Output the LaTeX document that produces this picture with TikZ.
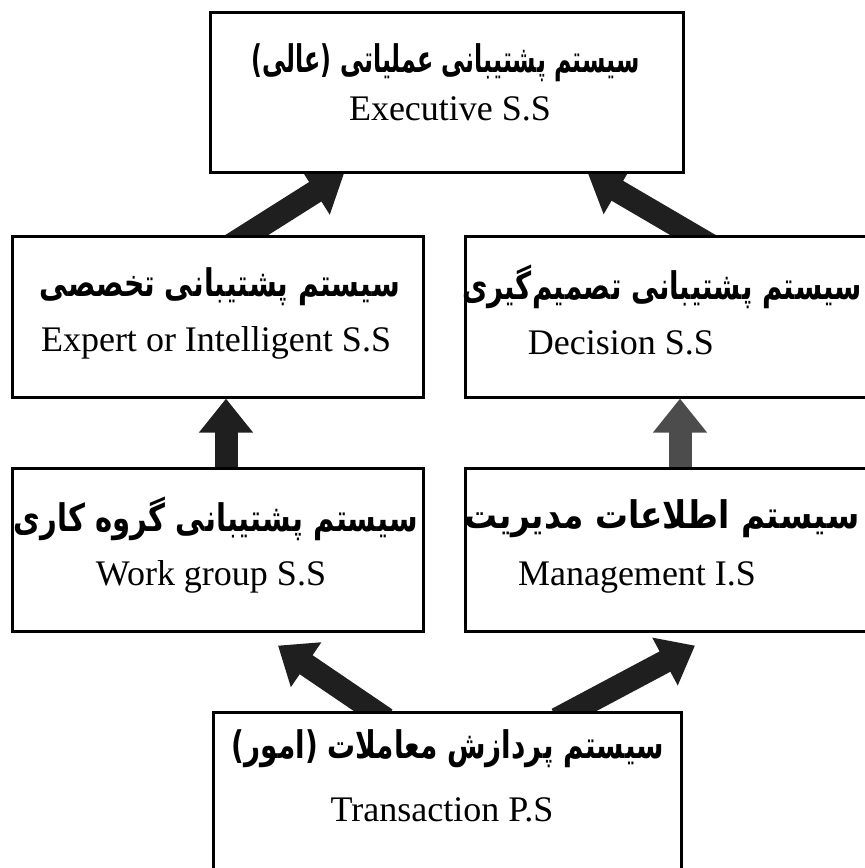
\documentclass[tikz,border=0pt]{standalone}
\usepackage{fontspec}
\usepackage{graphicx}
\setmainfont{Liberation Serif}
\newfontfamily\fa[Script=Arabic]{DejaVu Sans}
\TeXXeTstate=1
\usetikzlibrary{arrows.meta,calc,backgrounds}

\begin{document}
\begin{tikzpicture}[x=1pt,y=-1pt,
  box/.style={draw=black,line width=2.6pt,fill=white,inner sep=0pt,anchor=north west},
  fatext/.style={font=\fa\bfseries\fontsize{38}{44}\selectfont,inner sep=0pt},
  entext/.style={font=\fontsize{36}{42}\selectfont,inner sep=0pt},
  bigarrow/.style={draw=black!88,line width=23pt,-{Triangle[length=34pt 0 0,width=52pt 0 0]}},
]
\useasboundingbox (0,0) rectangle (865,868);
\clip (0,0) rectangle (865,868);

% boxes
\node[box,minimum width=473pt,minimum height=160pt] (exec) at (209,11) {};
\node[box,minimum width=411pt,minimum height=161pt] (expert) at (11,235) {};
\node[box,minimum width=416pt,minimum height=161pt] (decision) at (464,235) {};
\node[box,minimum width=411pt,minimum height=163pt] (work) at (11,467) {};
\node[box,minimum width=416pt,minimum height=163pt] (mgmt) at (464,467) {};
\node[box,minimum width=468pt,minimum height=200pt] (trans) at (212,711) {};

% texts
\node[fatext] (execfa) at (446,63) {\resizebox{388pt}{\height}{\fa\bfseries\beginR سیستم پشتیبانی عملیاتی (عالی)\endR}};
\node[entext] (execen) at (450,109) {Executive S.S};
\node[fatext] (expertfa) at (220,287) {\resizebox{360pt}{\height}{\fa\bfseries\beginR سیستم پشتیبانی تخصصی\endR}};
\node[entext] (experten) at (216,343) {Expert or Intelligent S.S};
\node[fatext] (decisionfa) at (662,287) {\resizebox{400pt}{\height}{\fa\bfseries\beginR سیستم پشتیبانی تصمیم‌گیری\endR}};
\node[entext] (decisionen) at (621,343) {Decision S.S};
\node[fatext] (workfa) at (216,519) {\resizebox{404pt}{\height}{\fa\bfseries\beginR سیستم پشتیبانی گروه کاری\endR}};
\node[entext] (worken) at (211,577) {Work group S.S};
\node[fatext] (mgmtfa) at (662,519) {\resizebox{395pt}{\height}{\fa\bfseries\beginR سیستم اطلاعات مدیریت\endR}};
\node[entext] (mgmten) at (637,577) {Management I.S};
\node[fatext] (transfa) at (448,749) {\resizebox{432pt}{\height}{\fa\bfseries\beginR سیستم پردازش معاملات (امور)\endR}};
\node[entext] (transen) at (442,810) {Transaction P.S};

% arrow end points
\coordinate (a1s) at ($(expert.north west)+(220,10)$);
\coordinate (a1e) at ($(exec.south west)+(135,0)$);
\coordinate (a2s) at ($(decision.north west)+(246,10)$);
\coordinate (a2e) at ($(exec.south west)+(379,0)$);
\coordinate (a3s) at ($(work.north west)+(215,12)$);
\coordinate (a3e) at ($(expert.south west)+(215,0)$);
\coordinate (a4s) at ($(mgmt.north west)+(216,12)$);
\coordinate (a4e) at ($(decision.south west)+(216,0)$);
\coordinate (a5s) at ($(trans.north west)+(174,8)$);
\coordinate (a5e) at ($(work.south west)+(267,13)$);
\coordinate (a6s) at ($(trans.north west)+(345,8)$);
\coordinate (a6e) at ($(mgmt.south west)+(231,13)$);

\begin{pgfonlayer}{background}
\draw[bigarrow] (a1s) -- (a1e);
\draw[bigarrow] (a2s) -- (a2e);
\draw[bigarrow] (a3s) -- (a3e);
\draw[bigarrow,draw=black!70] (a4s) -- (a4e);
\draw[bigarrow] (a5s) -- (a5e);
\draw[bigarrow] (a6s) -- (a6e);
\end{pgfonlayer}
\end{tikzpicture}
\end{document}
